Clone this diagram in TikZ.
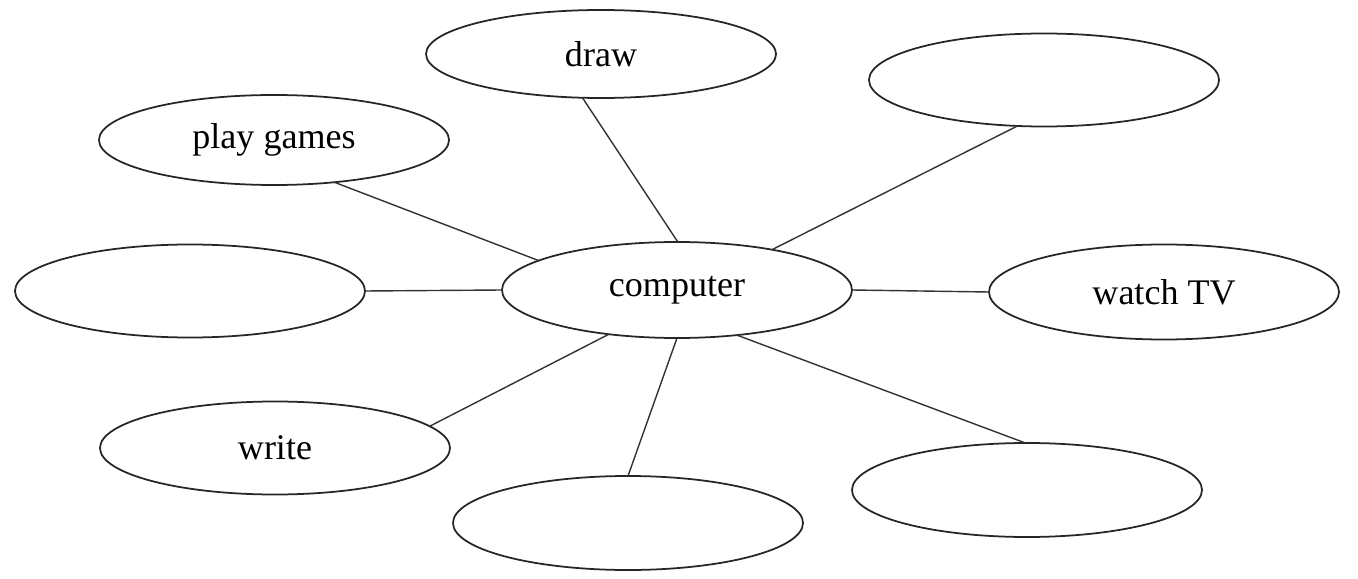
\documentclass[tikz,border=0pt]{standalone}
\usepackage{fontspec}
\setmainfont{Liberation Serif}
\usetikzlibrary{shapes.geometric}

\begin{document}
\begin{tikzpicture}[
  font=\fontsize{20.5}{24}\selectfont,
  bub/.style={draw=black!85, line width=1pt, ellipse, inner sep=0pt, outer sep=0pt,
    minimum width=7cm, minimum height=1.86cm},
  ln/.style={draw=black!80, line width=0.8pt}]
\useasboundingbox (0,0) rectangle (27.16,-11.58);
\node[bub, minimum height=1.92cm] (comp) at (13.54,-5.80) {computer};
\node[bub, minimum height=1.76cm] (dr) at (12.02,-1.08) {draw};
\node[bub] (tr) at (20.88,-1.60) {};
\node[bub, minimum height=1.80cm] (pg) at (5.48,-2.80) {play games};
\node[bub] (lf) at (3.80,-5.82) {};
\node[bub, minimum height=1.90cm] (tv) at (23.28,-5.84) {watch TV};
\node[bub] (wr) at (5.50,-8.96) {write};
\node[bub, minimum height=1.88cm] (bt) at (12.56,-10.46) {};
\node[bub, minimum height=1.88cm] (br) at (20.54,-9.80) {};
\draw[ln] (comp.89) -- (dr.247);
\draw[ln] (comp.23) -- (tr.240);
\draw[ln] (comp.168) -- (pg.325);
\draw[ln] (comp.west) -- (lf.east);
\draw[ln] (comp.east) -- (tv.west);
\draw[ln] (comp.213) -- (wr.8);
\draw[ln] (comp.270) -- (bt.90);
\draw[ln] (comp.323) -- (br.92);
\end{tikzpicture}
\end{document}
